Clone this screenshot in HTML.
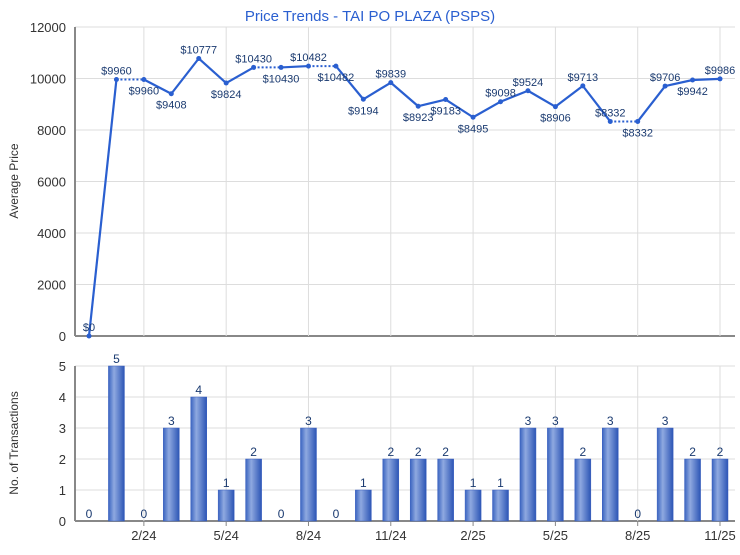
<!DOCTYPE html>
<html><head><meta charset="utf-8"><style>
body{margin:0;background:#fff}
svg text{font-family:"Liberation Sans",sans-serif}
</style></head><body>
<svg id="c" width="740" height="550" xmlns="http://www.w3.org/2000/svg">
<defs><linearGradient id="bg" x1="0" x2="1"><stop offset="0" stop-color="#3a64c0"/><stop offset="0.35" stop-color="#8fa9e0"/><stop offset="1" stop-color="#2c55b5"/></linearGradient></defs>
<text x="370" y="21" text-anchor="middle" font-size="15" fill="#2a5fd0">Price Trends - TAI PO PLAZA (PSPS)</text>
<text transform="translate(18,181) rotate(-90)" text-anchor="middle" font-size="12" fill="#333">Average Price</text>
<text transform="translate(18,443) rotate(-90)" text-anchor="middle" font-size="12" fill="#333">No. of Transactions</text>
<g id="g"></g>
</svg>
<script>
const months=["12/23","1/24","2/24","3/24","4/24","5/24","6/24","7/24","8/24","9/24","10/24","11/24","12/24","1/25","2/25","3/25","4/25","5/25","6/25","7/25","8/25","9/25","10/25","11/25"];
const prices=[0,9960,9960,9408,10777,9824,10430,10430,10482,10482,9194,9839,8923,9183,8495,9098,9524,8906,9713,8332,8332,9706,9942,9986];
const counts=[0,5,0,3,4,1,2,0,3,0,1,2,2,2,1,1,3,3,2,3,0,3,2,2];
const priceTicks=[0,2000,4000,6000,8000,10000,12000];
const countTicks=[0,1,2,3,4,5];
const labelAbove=[1,1,0,0,1,0,1,0,1,0,0,1,0,0,0,1,1,0,1,1,0,1,0,1];
const NS="http://www.w3.org/2000/svg",g=document.getElementById('g');
const L=75,R=735,T1=27,B1=336,T2=366,B2=521;
const x=i=>89+i*(720-89)/23;
const yP=v=>B1-(v-0)/(12000)*(B1-T1);
const yC=v=>B2-v/5*(B2-T2);
function el(t,a,txt){const e=document.createElementNS(NS,t);for(const k in a)e.setAttribute(k,a[k]);if(txt!=null)e.textContent=txt;g.appendChild(e);return e;}
// grids
priceTicks.forEach(v=>{const l=el('line',{x1:L,x2:R,y1:yP(v),y2:yP(v),stroke:v?'#ddd':'#888','stroke-width':v?1:2});


const t=el('text',{x:66,y:yP(v)+5,'text-anchor':'end','font-size':13,fill:'#333'},v);

});
countTicks.forEach(v=>{const l=el('line',{x1:L,x2:R,y1:yC(v),y2:yC(v),stroke:v?'#ddd':'#888','stroke-width':v?1:2});


const t=el('text',{x:66,y:yC(v)+5,'text-anchor':'end','font-size':13,fill:'#333'},v);

});
months.forEach((m,i)=>{if(i%3!==2)return;
[[T1,B1],[T2,B2]].forEach(([a,b])=>{const l=el('line',{x1:x(i),x2:x(i),y1:a,y2:b,stroke:'#ddd'});

});
const tk=el('line',{x1:x(i),x2:x(i),y1:B2,y2:B2+5,stroke:'#888'});


const t=el('text',{x:x(i),y:540,'text-anchor':'middle','font-size':13,fill:'#333'},m);

});
[[T1,B1],[T2,B2]].forEach(([a,b])=>{const l=el('line',{x1:L,x2:L,y1:a,y2:b,stroke:'#888','stroke-width':2});

});
// bars
counts.forEach((c,i)=>{if(c>0){const r=el('rect',{x:x(i)-8,y:yC(c),width:16,height:B2-yC(c),fill:'url(#bg)',stroke:'#3a5fbf','stroke-width':0.5});

}
const t=el('text',{x:x(i),y:yC(c)-3,'text-anchor':'middle','font-size':12,fill:'#1a3a70'},c);

});
// line
for(let i=1;i<prices.length;i++){const l=el('line',{x1:x(i-1),y1:yP(prices[i-1]),x2:x(i),y2:yP(prices[i]),stroke:'#2a5fd0','stroke-width':counts[i]===0?2:2.2,'stroke-dasharray':counts[i]===0?'2,2':''});

}
prices.forEach((p,i)=>{const c=el('circle',{cx:x(i),cy:yP(p),r:2.5,fill:'#2a5fd0'});


const t=el('text',{x:x(i),y:labelAbove[i]?yP(p)-5:yP(p)+15,'text-anchor':'middle','font-size':11,fill:'#1a3a70'},'$'+p);

});
</script>
</body></html>
